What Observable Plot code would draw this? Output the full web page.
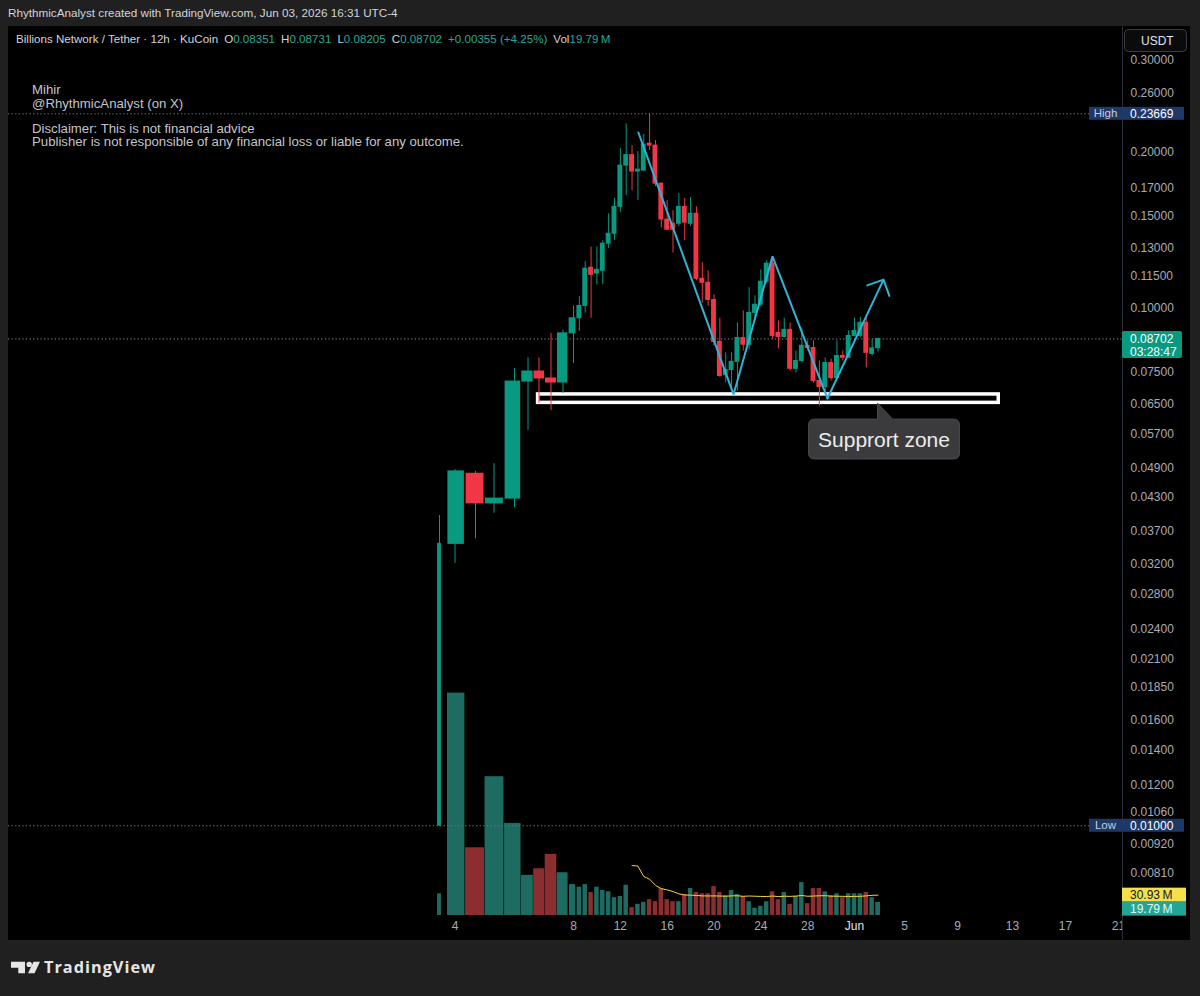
<!DOCTYPE html>
<html>
<head>
<meta charset="utf-8">
<script src="https://cdn.jsdelivr.net/npm/d3@7"></script>
<script src="https://cdn.jsdelivr.net/npm/@observablehq/plot@0.6"></script>
<style>
  html, body { margin: 0; padding: 0; }
  body { width: 1200px; height: 996px; background: #202020; position: relative; overflow: hidden;
         font-family: "Liberation Sans", Arial, sans-serif; }
  #header { position: absolute; left: 8px; top: 6px; font-size: 11.7px; line-height: 14px; color: #d1d4dc; white-space: nowrap; }
  #chart { position: absolute; left: 8px; top: 26px; width: 1182px; height: 914px; background: #000; overflow: hidden; }
  #chart > svg { position: absolute; left: 0; top: 0; }
  #legend { position: absolute; left: 8px; top: 6px; font-size: 11.6px; line-height: 14px; color: #d1d4dc; white-space: nowrap; }
  #legend .g { margin-left: 6px; }
  #legend .v { color: #22ab94; }
  .note { position: absolute; left: 24px; font-size: 13.2px; line-height: 13.4px; color: #c3c5cc; white-space: nowrap; }
  #n1 { top: 57.3px; }
  #n2 { top: 95.6px; }
</style>
</head>
<body>
<div id="header"></div>
<div id="chart"></div>
<svg id="footer" style="position:absolute;left:0;top:945px" width="200" height="51" viewBox="0 945 200 51">
  <path d="M11,961.7 H25 V973.3 H18.3 V967.7 H11 Z" fill="#e6e6e6"/>
  <circle cx="29.2" cy="964.4" r="2.7" fill="#e6e6e6"/>
  <polygon points="33.5,961.7 40,961.7 34.5,973.3 28,973.3" fill="#e6e6e6"/>
  <text x="44" y="973.3" font-family="'Open Sans', sans-serif" font-weight="700" font-size="16.3" letter-spacing="1" fill="#e6e6e6">TradingView</text>
</svg>
<script>
// ---------------- DATA ----------------
const headerText = "RhythmicAnalyst created with TradingView.com, Jun 03, 2026 16:31 UTC-4";
const symbolText = "Billions Network / Tether · 12h · KuCoin";
const changeText = "+0.00355 (+4.25%)";
const noteLines1 = ["Mihir", "@RhythmicAnalyst (on X)"];
const noteLines2 = ["Disclaimer: This is not financial advice",
                    "Publisher is not responsible of any financial loss or liable for any outcome."];

// 12h candles starting 2026-05-03 12:00 UTC
const firstBar = "2026-05-03T12:00Z";
const open  = [0.0100,0.0350,0.0478,0.0419,0.0428,0.0720,0.0753,0.0730,0.0717,0.0892,
               0.0954,0.1008,0.1194,0.1164,0.1178,0.1329,0.1389,0.1565,0.1880,0.1970,
               0.1831,0.1839,0.2073,0.2055,0.1735,0.1479,0.1452,0.1452,0.1565,0.1452,
               0.1518,0.1137,0.1117,0.1035,0.0859,0.0741,0.0758,0.0786,0.0874,0.0848,
               0.0977,0.1013,0.1122,0.1216,0.0894,0.0878,0.0906,0.0762,0.0789,0.0844,
               0.0836,0.0722,0.0703,0.0782,0.0731,0.0807,0.0800,0.0882,0.0882,0.0935,
               0.0814,0.08351];
const high  = [0.0397,0.0487,0.0483,0.0500,0.0763,0.0801,0.0800,0.0892,0.0905,0.1008,
               0.1050,0.1227,0.1309,0.1310,0.1347,0.1518,0.1625,0.2028,0.2263,0.2055,
               0.2001,0.2159,0.23669,0.2102,0.1740,0.1609,0.1539,0.1660,0.1625,0.1632,
               0.1565,0.1221,0.1178,0.1058,0.0954,0.0818,0.0818,0.0934,0.0986,0.1093,
               0.1054,0.1183,0.1232,0.1254,0.0943,0.0954,0.0934,0.0825,0.0914,0.0863,
               0.0863,0.0789,0.0800,0.0796,0.0863,0.0825,0.0902,0.0954,0.0958,0.0964,
               0.0870,0.08731];
const low   = [0.0100,0.0321,0.0358,0.0401,0.0411,0.0580,0.0654,0.0633,0.0683,0.0780,
               0.0900,0.0977,0.0954,0.1107,0.1107,0.1300,0.1347,0.1525,0.1645,0.1682,
               0.1609,0.1831,0.2010,0.1712,0.1427,0.1408,0.1276,0.1434,0.1347,0.1434,
               0.1127,0.1021,0.1008,0.0844,0.0734,0.0716,0.0690,0.0690,0.0825,0.0829,
               0.0943,0.1004,0.1112,0.0870,0.0833,0.0874,0.0755,0.0748,0.0782,0.0825,
               0.0716,0.0646,0.0690,0.0722,0.0729,0.0789,0.0800,0.0878,0.0874,0.0765,
               0.0807,0.08205];
const close = [0.0350,0.0483,0.0419,0.0428,0.0720,0.0753,0.0730,0.0717,0.0892,0.0954,
               0.1008,0.1189,0.1157,0.1183,0.1329,0.1389,0.1565,0.1880,0.1970,0.1831,
               0.1847,0.2064,0.2055,0.1735,0.1479,0.1414,0.1414,0.1565,0.1459,0.1518,
               0.1137,0.1117,0.1035,0.0859,0.0738,0.0758,0.0786,0.0874,0.0848,0.0977,
               0.1013,0.1122,0.1216,0.0882,0.0878,0.0906,0.0762,0.0789,0.0844,0.0836,
               0.0722,0.0703,0.0782,0.0731,0.0807,0.0800,0.0882,0.0902,0.0935,0.0818,
               0.08347,0.08702];
// volume in millions
const volume = [33,338,103,211,140,61,71,93,65,47,
                43,47,35,43,38,36,27,29,46,12,
                17,20,24,21,41,24,21,21,32,41,
                35,33,33,44,35,30,38,32,29,21,
                11,14,21,36,24,35,17,29,50,18,
                41,41,36,30,33,27,33,33,33,35,
                27,19.79];
const volMaLast = 30.93;          // Volume SMA(20) label value
const highValue = 0.23669, lowValue = 0.01000;
const countdown = "03:28:47";

const yTicks = [0.30, 0.26, 0.20, 0.17, 0.15, 0.13, 0.115, 0.10, 0.075, 0.065, 0.057, 0.049,
                0.043, 0.037, 0.032, 0.028, 0.024, 0.021, 0.0185, 0.016, 0.014, 0.012, 0.0106, 0.0092, 0.0081];
const xTickDates  = ["2026-05-04","2026-05-08","2026-05-12","2026-05-16","2026-05-20","2026-05-24","2026-05-28",
                     "2026-06-01","2026-06-05","2026-06-09","2026-06-13","2026-06-17","2026-06-21"];
const xTickLabels = ["4","8","12","16","20","24","28","Jun","5","9","13","17","21"];

// drawings
const trendTimes  = ["2026-05-13T13:00Z","2026-05-21T16:00Z","2026-05-25T00:00Z","2026-05-29T16:30Z","2026-06-03T10:00Z"];
const trendPrices = [0.2178, 0.0680, 0.1256, 0.0668, 0.1133];
const zoneTimes   = ["2026-05-06T11:00Z", "2026-06-12T00:00Z"];
const zonePrices  = [0.0655, 0.0680];
const calloutTime = "2026-06-03T00:00Z", calloutPrice = 0.0653, calloutText = "Supprort zone";

// ---------------- LAYOUT (time axis is bar-spaced, as in TradingView) ----------------
const W = 1182, H = 914, MR = 68, MB = 25;
const xKnots = ["2026-05-03T12:00Z","2026-05-04T00:00Z","2026-05-04T12:00Z","2026-05-05T00:00Z","2026-05-05T12:00Z",
                "2026-05-06T00:00Z","2026-05-06T12:00Z","2026-05-07T00:00Z","2026-05-07T12:00Z","2026-05-08T00:00Z",
                "2026-06-01T00:00Z","2026-06-03T00:00Z","2026-06-05T00:00Z","2026-06-09T00:00Z","2026-06-13T00:00Z",
                "2026-06-17T00:00Z","2026-06-21T00:00Z"].map(d => new Date(d));
const xPix = [431,446.5,467,485.5,506,519.5,530.5,542.5,554.5,565,846,869.5,896,949,1004,1057,1110];
const xOpt = {type: "utc", domain: xKnots, range: xPix, axis: null};
const FONT = '"Liberation Sans", Arial, sans-serif';
const UP = "#089981", DOWN = "#f23645", UPV = "#1e6b62", DOWNV = "#8c2d2f", CYAN = "#2fb4d8";
const HOUR = 3600e3;

const t0 = Date.parse(firstBar);
const bars = open.map((o, i) => ({
  i, t: new Date(t0 + i * 12 * HOUR), o, h: high[i], l: low[i], c: close[i],
  v: volume[i] * 1e6, up: close[i] >= open[i]
}));
const half  = d => (d.i === 0 ? 1.5 : d.i < 9 ? 5.5 : 5) * HOUR;
const vHalf = d => (d.i === 0 ? 1.5 : d.i < 9 ? 5.8 : 4.6) * HOUR;
const last = bars.length - 1;

// ---------------- VOLUME PANE ----------------
const volPlot = Plot.plot({
  width: W, height: H, marginTop: 0, marginRight: MR, marginBottom: MB, marginLeft: 0,
  style: {background: "transparent", overflow: "visible"},
  x: xOpt,
  y: {type: "linear", domain: [0, (H - MB) * 1.52e6], axis: null},
  color: {type: "identity"},
  marks: [
    Plot.rect(bars, {x1: d => new Date(+d.t - vHalf(d)), x2: d => new Date(+d.t + vHalf(d)),
                     y1: 0, y2: "v", fill: d => d.up ? UPV : DOWNV}),
    Plot.lineY(bars, Plot.windowY({k: 20, anchor: "end", strict: true, reduce: "mean"},
                     {x: "t", y: "v", stroke: "#f2d43c", strokeWidth: 1}))
  ]
});

// ---------------- PRICE PANE ----------------
const trend = trendTimes.map((t, i) => ({t: new Date(t), p: trendPrices[i]}));
const zone = {t1: new Date(zoneTimes[0]), t2: new Date(zoneTimes[1]), p1: zonePrices[0], p2: zonePrices[1]};
const pricePlot = Plot.plot({
  width: W, height: H, marginTop: 0, marginRight: MR, marginBottom: MB, marginLeft: 0,
  style: {background: "transparent", overflow: "visible", fontFamily: FONT, fontSize: "12px"},
  x: xOpt,
  y: {type: "log", domain: [0.006711, 0.3489], axis: null},
  color: {type: "identity"},
  marks: [
    Plot.ruleY([highValue, lowValue], {stroke: "#787b86", strokeDasharray: "1.2,2.4"}),
    Plot.ruleY([close[last]], {stroke: "#8e9199", strokeDasharray: "1.2,2.4"}),
    Plot.rect([zone], {x1: "t1", x2: "t2", y1: "p1", y2: "p2", fill: "none", stroke: "#ffffff", strokeWidth: 3.5}),
    Plot.ruleX(bars, {x: "t", y1: "l", y2: "h", stroke: d => d.up ? UP : DOWN}),
    Plot.rect(bars, {x1: d => new Date(+d.t - half(d)), x2: d => new Date(+d.t + half(d)),
                     y1: "o", y2: "c", fill: d => d.up ? UP : DOWN, insetTop: -0.5, insetBottom: -0.5}),
    Plot.line(trend.slice(0, 4), {x: "t", y: "p", stroke: CYAN, strokeWidth: 2, strokeLinejoin: "miter"}),
    Plot.arrow([{a: trend[3], b: trend[4]}], {x1: d => d.a.t, y1: d => d.a.p, x2: d => d.b.t, y2: d => d.b.p,
                     stroke: CYAN, strokeWidth: 2, headLength: 13, headAngle: 90}),
    Plot.text(yTicks, {y: d => d, text: d => d.toFixed(5), frameAnchor: "right", textAnchor: "start",
                       dx: 8, fill: "#a9acb5", fontSize: 12}),
    Plot.text(xTickDates.map(d => new Date(d)), {x: d => d, text: (d, i) => xTickLabels[i], frameAnchor: "bottom",
                       dy: 14, fontSize: 12, fill: (d, i) => xTickLabels[i] === "Jun" ? "#e0e3eb" : "#a9acb5"})
  ]
});

const chart = document.getElementById("chart");
chart.appendChild(volPlot);
chart.appendChild(pricePlot);

// ---------------- OVERLAY LABELS (positioned through the plot scales) ----------------
const xs = pricePlot.scale("x"), ys = pricePlot.scale("y"), yv = volPlot.scale("y");
const AX = W - MR;
const g = d3.select(pricePlot).append("g").attr("font-family", FONT);
function box(x, y, w, h, fill, rx = 0, stroke = "none") {
  g.append("rect").attr("x", x).attr("y", y).attr("width", w).attr("height", h)
   .attr("rx", rx).attr("fill", fill).attr("stroke", stroke);
}
function label(x, y, text, fill, anchor = "start", size = 12, weight = 400) {
  g.append("text").attr("x", x).attr("y", y).attr("dy", "0.36em").attr("text-anchor", anchor)
   .attr("font-size", size).attr("font-weight", weight).attr("fill", fill).text(text);
}
// clip time labels under the price scale + separator
box(AX, H - MB, MR, MB, "#000");
g.append("line").attr("x1", AX + 0.5).attr("x2", AX + 0.5).attr("y1", 0).attr("y2", H).attr("stroke", "#2a2d36");

// USDT button
box(AX + 2.5, 3.5, 62, 22, "#0b0b0b", 4, "#3a3d47");
label(AX + 19, 14.5, "USDT", "#e0e3eb", "start", 12);

// High / Low badges
[[highValue, "High"], [lowValue, "Low"]].forEach(([v, name]) => {
  const yc = ys.apply(v);
  box(AX - 33, yc - 6.5, 33, 13, "#1e3868");
  label(AX - 16.5, yc, name, "#c5cde0", "middle", 11.5);
  box(AX, yc - 6.5, 62, 13, "#1e3868");
  label(AX + 8, yc, v.toFixed(5), "#ffffff");
});

// last price badge
{
  const yc = ys.apply(close[last]);
  box(AX, yc - 7.5, 60, 27, UP, 2);
  label(AX + 8, yc, close[last].toFixed(5), "#ffffff");
  label(AX + 8, yc + 13, countdown, "#ffffff");
}

// volume badges
{
  const y1 = yv.apply(volMaLast * 1e6);
  const y2 = Math.max(yv.apply(volume[last] * 1e6), y1 + 14);
  box(AX, y1 - 7, 64, 14, "#f5e04a");
  label(AX + 8, y1, volMaLast.toFixed(2) + "\u202FM", "#131722");
  box(AX, y2 - 7, 64, 14, "#22a594");
  label(AX + 8, y2, volume[last].toFixed(2) + "\u202FM", "#e8f6f3");
}

// callout
{
  const ax = xs.apply(new Date(calloutTime)), ay = ys.apply(calloutPrice);
  const x0 = ax - 69, x1 = ax + 82, y0 = ay + 16, y1 = ay + 56, r = 6;
  const p = `M${x0 + r},${y0} L${ax},${y0} L${ax},${ay} L${ax + 15},${y0} L${x1 - r},${y0} Q${x1},${y0} ${x1},${y0 + r}
             L${x1},${y1 - r} Q${x1},${y1} ${x1 - r},${y1} L${x0 + r},${y1} Q${x0},${y1} ${x0},${y1 - r}
             L${x0},${y0 + r} Q${x0},${y0} ${x0 + r},${y0} Z`;
  g.append("path").attr("d", p).attr("fill", "#3b3b3d").attr("stroke", "#525256").attr("stroke-width", 0.8);
  label((x0 + x1) / 2, (y0 + y1) / 2, calloutText, "#ececec", "middle", 21);
}

// ---------------- HTML TEXT ----------------
document.getElementById("header").textContent = headerText;
const legend = document.createElement("div");
legend.id = "legend";
const f5 = v => v.toFixed(5);
legend.innerHTML = `<span>${symbolText}</span>` +
  [["O", f5(open[last])], ["H", f5(high[last])], ["L", f5(low[last])], ["C", f5(close[last])]]
    .map(([k, v]) => `<span class="g">${k}<span class="v">${v}</span></span>`).join("") +
  `<span class="g v">${changeText}</span>` +
  `<span class="g">Vol<span class="v">${volume[last].toFixed(2)}\u202FM</span></span>`;
chart.appendChild(legend);
[["n1", noteLines1], ["n2", noteLines2]].forEach(([id, lines]) => {
  const d = document.createElement("div");
  d.className = "note"; d.id = id;
  d.innerHTML = lines.join("<br>");
  chart.appendChild(d);
});
</script>
</body>
</html>
